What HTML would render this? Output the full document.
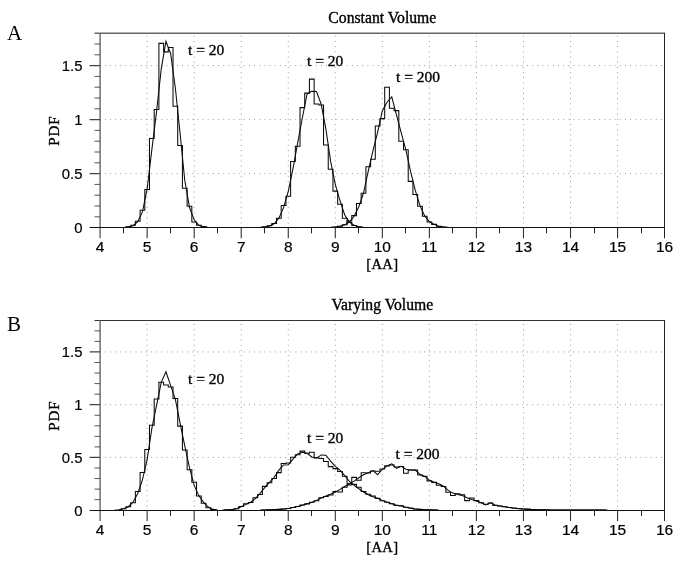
<!DOCTYPE html><html><head><meta charset="utf-8"><title>PDF</title><style>html,body{margin:0;padding:0;background:#fff}svg{display:block}text{fill:#000;stroke:#000;stroke-width:0.35px}.h{stroke-width:0.2px}.l{stroke:none}.s{font-family:"Liberation Serif",serif}.h{font-family:"Liberation Sans",sans-serif}</style></head><body>
<svg width="685" height="565" viewBox="0 0 685 565">
<rect width="685" height="565" fill="#fff"/>
<path d="M147.14 35.80V227.60M194.18 35.80V227.60M241.22 35.80V227.60M288.27 35.80V227.60M335.31 35.80V227.60M382.35 35.80V227.60M429.39 35.80V227.60M476.43 35.80V227.60M523.48 35.80V227.60M570.52 35.80V227.60M617.56 35.80V227.60" stroke="#9c9c9c" stroke-width="1" stroke-dasharray="1 4.19" fill="none"/>
<path d="M104.75 173.60H664.60M104.75 119.60H664.60M104.75 65.60H664.60" stroke="#9c9c9c" stroke-width="1" stroke-dasharray="1 4.15" fill="none"/>
<path d="M125.97 227.60V226.74H130.68V225.33H135.38V221.34H140.09V210.21H144.79V189.58H149.49V138.50H154.20V109.56H158.90V43.35H163.61V51.88H168.31V47.56H173.01V106.32H177.72V145.41H182.42V188.29H187.13V206.32H191.83V221.98H196.54V225.33H201.24V226.63H205.94V227.60" stroke="#0a0a0a" stroke-width="1.05" fill="none" stroke-linejoin="miter"/>
<path d="M123.62 227.49L128.32 227.06L133.03 225.76L137.73 221.77L142.44 211.94L147.14 188.94L151.85 149.62L156.55 111.50L161.25 68.84L165.96 41.30L170.66 53.72L175.37 88.28L180.07 133.21L184.77 180.40L189.48 207.30L194.18 219.82L198.89 225.33L203.59 226.95L208.30 227.38" stroke="#0a0a0a" stroke-width="1.05" fill="none" stroke-linejoin="miter" stroke-miterlimit="10"/>
<path d="M262.39 227.60V226.74H267.10V225.76H271.80V223.50H276.51V218.20H281.21V205.46H285.91V196.28H290.62V161.50H295.32V146.28H300.03V107.61H304.73V93.14H309.44V79.10H314.14V103.94H318.84V105.02H323.55V145.09H328.25V169.17H332.96V191.10H337.66V204.16H342.36V218.20H347.07V222.42H351.77V225.44H356.48V226.74H361.18V227.60" stroke="#0a0a0a" stroke-width="1.05" fill="none" stroke-linejoin="miter"/>
<path d="M260.04 227.38L264.75 227.06L269.45 225.98L274.15 223.82L278.86 218.20L283.56 207.62L288.27 191.31L292.97 168.74L297.68 142.82L302.38 117.76L307.08 94.00L311.79 91.30L316.49 91.52L321.20 104.26L325.90 129.10L330.60 161.18L335.31 184.62L340.01 200.60L344.72 214.96L349.42 222.09L354.12 225.22L358.83 226.74L363.53 227.28" stroke="#0a0a0a" stroke-width="1.05" fill="none" stroke-linejoin="miter" stroke-miterlimit="10"/>
<path d="M332.96 227.60V227.06H337.66V226.30H342.36V224.79H347.07V220.90H351.77V215.61H356.48V203.52H361.18V193.26H365.89V166.69H370.59V159.34H375.29V126.08H380.00V118.63H384.70V87.31H389.41V108.15H394.11V110.64H398.81V141.20H403.52V149.84H408.22V181.38H412.93V194.44H417.63V206.32H422.34V216.26H427.04V222.09H431.74V224.36H436.45V226.30H441.15V227.06H445.86V227.60" stroke="#0a0a0a" stroke-width="1.05" fill="none" stroke-linejoin="miter"/>
<path d="M330.60 227.38L335.31 227.06L340.01 226.30L344.72 224.79L349.42 222.20L354.12 216.26L358.83 206.76L363.53 193.04L368.24 171.22L372.94 150.92L377.65 132.02L382.35 110.64L387.05 102.21L391.76 96.92L396.46 114.96L401.17 132.67L405.87 149.84L410.58 171.44L415.28 190.45L419.98 205.68L424.69 215.94L429.39 221.55L434.10 224.36L438.80 226.20L443.50 227.06L448.21 227.38" stroke="#0a0a0a" stroke-width="1.05" fill="none" stroke-linejoin="miter" stroke-miterlimit="10"/>
<path d="M94.50 33.20H665.10" stroke="#666" stroke-width="1.5" fill="none"/>
<path d="M100.10 33.20V238.30" stroke="#666" stroke-width="1.4" fill="none"/>
<path d="M664.5 33.20V238.30" stroke="#222" stroke-width="1" fill="none"/>
<path d="M89.60 227.50H664.60" stroke="#111" stroke-width="1" fill="none"/>
<path d="M147.14 227.60v10.7M194.18 227.60v10.7M241.22 227.60v10.7M288.27 227.60v10.7M335.31 227.60v10.7M382.35 227.60v10.7M429.39 227.60v10.7M476.43 227.60v10.7M523.48 227.60v10.7M570.52 227.60v10.7M617.56 227.60v10.7" stroke="#333" stroke-width="1.1" fill="none"/>
<path d="M123.50 227.60v5.7M170.50 227.60v5.7M217.50 227.60v5.7M264.50 227.60v5.7M311.50 227.60v5.7M358.50 227.60v5.7M405.50 227.60v5.7M452.50 227.60v5.7M499.50 227.60v5.7M546.50 227.60v5.7M594.50 227.60v5.7M641.50 227.60v5.7" stroke="#222" stroke-width="1" fill="none"/>
<path d="M89.60 173.60H100.10M89.60 119.60H100.10M89.60 65.60H100.10" stroke="#444" stroke-width="1.2" fill="none"/>
<path d="M94.50 216.80H100.10M94.50 206.00H100.10M94.50 195.20H100.10M94.50 184.40H100.10M94.50 162.80H100.10M94.50 152.00H100.10M94.50 141.20H100.10M94.50 130.40H100.10M94.50 108.80H100.10M94.50 98.00H100.10M94.50 87.20H100.10M94.50 76.40H100.10M94.50 54.80H100.10M94.50 44.00H100.10" stroke="#555" stroke-width="1" fill="none"/>
<text class="h" transform="translate(100.10 252.20) scale(1 1)" font-size="15.5" text-anchor="middle">4</text>
<text class="h" transform="translate(147.14 252.20) scale(1 1)" font-size="15.5" text-anchor="middle">5</text>
<text class="h" transform="translate(194.18 252.20) scale(1 1)" font-size="15.5" text-anchor="middle">6</text>
<text class="h" transform="translate(241.22 252.20) scale(1 1)" font-size="15.5" text-anchor="middle">7</text>
<text class="h" transform="translate(288.27 252.20) scale(1 1)" font-size="15.5" text-anchor="middle">8</text>
<text class="h" transform="translate(335.31 252.20) scale(1 1)" font-size="15.5" text-anchor="middle">9</text>
<text class="h" transform="translate(382.35 252.20) scale(1 1)" font-size="15.5" text-anchor="middle">10</text>
<text class="h" transform="translate(429.39 252.20) scale(1 1)" font-size="15.5" text-anchor="middle">11</text>
<text class="h" transform="translate(476.43 252.20) scale(1 1)" font-size="15.5" text-anchor="middle">12</text>
<text class="h" transform="translate(523.48 252.20) scale(1 1)" font-size="15.5" text-anchor="middle">13</text>
<text class="h" transform="translate(570.52 252.20) scale(1 1)" font-size="15.5" text-anchor="middle">14</text>
<text class="h" transform="translate(617.56 252.20) scale(1 1)" font-size="15.5" text-anchor="middle">15</text>
<text class="h" transform="translate(664.60 252.20) scale(1 1)" font-size="15.5" text-anchor="middle">16</text>
<text class="h" transform="translate(82.50 232.90) scale(0.96 1)" font-size="15.5" text-anchor="end">0</text>
<text class="h" transform="translate(82.50 178.90) scale(0.96 1)" font-size="15.5" text-anchor="end">0.5</text>
<text class="h" transform="translate(82.50 124.90) scale(0.96 1)" font-size="15.5" text-anchor="end">1</text>
<text class="h" transform="translate(82.50 70.90) scale(0.96 1)" font-size="15.5" text-anchor="end">1.5</text>
<text class="s" x="382.3" y="269.20" font-size="14.6" text-anchor="middle" letter-spacing="0.35">[AA]</text>
<text class="s" transform="translate(59.4 130.70) rotate(-90)" font-size="15" letter-spacing="0.9" text-anchor="middle">PDF</text>
<text class="s" x="382.3" y="22.80" font-size="15.7" text-anchor="middle">Constant Volume</text>
<text class="s l" x="7" y="39.7" font-size="21">A</text>
<text class="s" x="188" y="54.5" font-size="15.5">t = 20</text>
<text class="s" x="307" y="65.7" font-size="15.5">t = 20</text>
<text class="s" x="396" y="82" font-size="15.5">t = 200</text>
<path d="M147.14 324.00V510.20M194.18 324.00V510.20M241.22 324.00V510.20M288.27 324.00V510.20M335.31 324.00V510.20M382.35 324.00V510.20M429.39 324.00V510.20M476.43 324.00V510.20M523.48 324.00V510.20M570.52 324.00V510.20M617.56 324.00V510.20" stroke="#9c9c9c" stroke-width="1" stroke-dasharray="1 4.19" fill="none"/>
<path d="M104.75 457.45H664.60M104.75 404.70H664.60M104.75 351.95H664.60" stroke="#9c9c9c" stroke-width="1" stroke-dasharray="1 4.15" fill="none"/>
<path d="M121.27 510.20V508.72H125.97V506.82H130.68V502.81H135.38V491.53H140.09V472.54H144.79V449.54H149.49V425.27H154.20V399.00H158.90V382.33H163.61V384.97H168.31V386.98H173.01V398.48H177.72V426.12H182.42V449.96H187.13V469.79H191.83V482.24H196.54V496.06H201.24V503.34H205.94V507.67H210.65V509.46H215.35V510.20" stroke="#0a0a0a" stroke-width="1.05" fill="none" stroke-linejoin="miter"/>
<path d="M114.21 510.15L118.92 509.78L123.62 508.72L128.32 506.72L133.03 502.29L137.73 493.43L142.44 479.82L147.14 459.56L151.85 428.33L156.55 405.33L161.25 382.33L165.96 371.78L170.66 385.60L175.37 399.43L180.07 423.06L184.77 445.95L189.48 467.68L194.18 485.41L198.89 495.85L203.59 502.29L208.30 507.03L213.00 509.36L217.70 509.99" stroke="#0a0a0a" stroke-width="1.05" fill="none" stroke-linejoin="miter" stroke-miterlimit="10"/>
<path d="M224.76 510.20V509.88H229.46V509.46H234.17V508.72H238.87V506.51H243.58V503.66H248.28V502.50H252.99V497.75H257.69V494.59H262.39V486.36H267.10V482.77H271.80V478.55H276.51V472.64H281.21V463.46H285.91V462.94H290.62V457.24H295.32V454.71H300.03V451.12H304.73V453.23H309.44V452.28H314.14V457.66H318.84V458.40H323.55V461.56H328.25V466.63H332.96V468.63H337.66V471.48H342.36V476.23H347.07V483.82H351.77V484.35H356.48V487.31H361.18V491.42H365.89V494.27H370.59V496.06H375.29V498.38H380.00V500.70H384.70V502.29H389.41V503.66H394.11V505.45H398.81V505.77H403.52V507.25H408.22V508.09H412.93V508.93H417.63V509.25H422.34V509.67H427.04V509.88H431.74V509.99H436.45V510.20" stroke="#0a0a0a" stroke-width="1.05" fill="none" stroke-linejoin="miter"/>
<path d="M222.41 510.09L227.11 509.99L231.82 509.57L236.52 508.72L241.22 506.82L245.93 504.40L250.63 502.18L255.34 498.59L260.04 493.43L264.75 487.62L269.45 482.45L274.15 477.39L278.86 470.11L283.56 464.94L288.27 464.83L292.97 459.14L297.67 453.97L302.38 452.28L307.08 453.23L311.79 456.92L316.49 458.08L321.20 454.92L325.90 455.23L330.60 461.04L335.31 466.31L340.01 470.11L344.72 475.60L349.42 481.50L354.12 485.30L358.83 488.78L363.53 491.95L368.24 494.69L372.94 496.70L377.65 498.38L382.35 500.39L387.05 502.29L391.76 503.87L396.46 505.14L401.17 505.98L405.87 507.35L410.57 508.30L415.28 508.93L419.98 509.36L424.69 509.67L429.39 509.88L434.10 509.99L438.80 510.09" stroke="#0a0a0a" stroke-width="1.05" fill="none" stroke-linejoin="miter" stroke-miterlimit="10"/>
<path d="M262.39 510.20V509.99H267.10V509.88H271.80V509.67H276.51V509.36H281.21V508.93H285.91V508.41H290.62V507.56H295.32V506.51H300.03V504.93H304.73V503.87H309.44V502.29H314.14V500.70H318.84V497.75H323.55V496.49H328.25V494.90H332.96V491.42H337.66V491.95H342.36V487.31H347.07V484.99H351.77V477.39H356.48V480.34H361.18V472.75H365.89V473.06H370.59V470.95H375.29V471.16H380.00V469.06H384.70V465.89H389.41V465.05H394.11V466.94H398.81V466.52H403.52V473.27H408.22V469.90H412.93V469.90H417.63V475.07H422.34V476.23H427.04V480.87H431.74V482.35H436.45V485.20H441.15V486.46H445.86V492.26H450.56V495.43H455.26V493.74H459.97V494.69H464.67V500.60H469.38V498.07H474.08V500.60H478.79V502.81H483.49V504.19H488.19V503.03H492.90V505.35H497.60V505.98H502.31V506.82H507.01V507.46H511.71V507.98H516.42V508.41H521.12V508.93H525.83V509.14H530.53V509.46H535.24V509.67H539.94V509.78H544.64V509.88H549.35V509.99H554.05V509.99H558.76V510.09H563.46V510.09H568.16V510.09H572.87V510.09H577.57V509.99H582.28V510.09H586.98V510.09H591.69V510.09H596.39V509.99H601.09V510.09H605.80V510.20" stroke="#0a0a0a" stroke-width="1.05" fill="none" stroke-linejoin="miter"/>
<path d="M260.04 510.09L264.75 509.99L269.45 509.88L274.15 509.67L278.86 509.36L283.56 508.93L288.27 508.41L292.97 507.56L297.68 506.51L302.38 505.14L307.08 503.66L311.79 502.50L316.49 500.39L321.20 498.07L325.90 496.06L330.60 494.16L335.31 492.26L340.01 489.42L344.72 486.57L349.42 483.82L354.12 481.08L358.83 477.71L363.53 474.75L368.24 472.75L372.94 470.64L377.65 474.75L382.35 469.27L387.05 465.89L391.76 463.78L396.46 468.42L401.17 466.31L405.87 469.16L410.58 469.90L415.28 470.11L419.98 474.33L424.69 476.44L429.39 480.13L434.10 482.35L438.80 483.82L443.50 486.15L448.21 490.37L452.91 493.11L457.62 494.59L462.32 495.43L467.02 497.65L471.73 499.54L476.43 501.02L481.14 502.81L485.84 504.93L490.55 502.81L495.25 505.24L499.95 505.98L504.66 506.82L509.36 507.56L514.07 508.20L518.77 508.62L523.48 509.04L528.18 509.36L532.88 509.57L537.59 509.78L542.29 509.88L547.00 509.99L551.70 509.99L556.40 510.09L561.11 510.09L565.81 510.09L570.52 510.09L575.22 510.09L579.93 510.09L584.63 509.99L589.33 510.09L594.04 510.09L598.74 510.09L603.45 510.09L608.15 510.20" stroke="#0a0a0a" stroke-width="1.05" fill="none" stroke-linejoin="miter" stroke-miterlimit="10"/>
<path d="M94.50 320.50H665.10" stroke="#333" stroke-width="1.1" fill="none"/>
<path d="M100.10 320.30V520.90" stroke="#666" stroke-width="1.4" fill="none"/>
<path d="M664.5 320.30V520.90" stroke="#222" stroke-width="1" fill="none"/>
<path d="M89.60 510.50H664.60" stroke="#111" stroke-width="1" fill="none"/>
<path d="M147.14 510.20v10.7M194.18 510.20v10.7M241.22 510.20v10.7M288.27 510.20v10.7M335.31 510.20v10.7M382.35 510.20v10.7M429.39 510.20v10.7M476.43 510.20v10.7M523.48 510.20v10.7M570.52 510.20v10.7M617.56 510.20v10.7" stroke="#333" stroke-width="1.1" fill="none"/>
<path d="M123.50 510.20v5.7M170.50 510.20v5.7M217.50 510.20v5.7M264.50 510.20v5.7M311.50 510.20v5.7M358.50 510.20v5.7M405.50 510.20v5.7M452.50 510.20v5.7M499.50 510.20v5.7M546.50 510.20v5.7M594.50 510.20v5.7M641.50 510.20v5.7" stroke="#222" stroke-width="1" fill="none"/>
<path d="M89.60 457.45H100.10M89.60 404.70H100.10M89.60 351.95H100.10" stroke="#444" stroke-width="1.2" fill="none"/>
<path d="M94.50 499.65H100.10M94.50 489.10H100.10M94.50 478.55H100.10M94.50 468.00H100.10M94.50 446.90H100.10M94.50 436.35H100.10M94.50 425.80H100.10M94.50 415.25H100.10M94.50 394.15H100.10M94.50 383.60H100.10M94.50 373.05H100.10M94.50 362.50H100.10M94.50 341.40H100.10M94.50 330.85H100.10" stroke="#555" stroke-width="1" fill="none"/>
<text class="h" transform="translate(100.10 534.80) scale(1 1)" font-size="15.5" text-anchor="middle">4</text>
<text class="h" transform="translate(147.14 534.80) scale(1 1)" font-size="15.5" text-anchor="middle">5</text>
<text class="h" transform="translate(194.18 534.80) scale(1 1)" font-size="15.5" text-anchor="middle">6</text>
<text class="h" transform="translate(241.22 534.80) scale(1 1)" font-size="15.5" text-anchor="middle">7</text>
<text class="h" transform="translate(288.27 534.80) scale(1 1)" font-size="15.5" text-anchor="middle">8</text>
<text class="h" transform="translate(335.31 534.80) scale(1 1)" font-size="15.5" text-anchor="middle">9</text>
<text class="h" transform="translate(382.35 534.80) scale(1 1)" font-size="15.5" text-anchor="middle">10</text>
<text class="h" transform="translate(429.39 534.80) scale(1 1)" font-size="15.5" text-anchor="middle">11</text>
<text class="h" transform="translate(476.43 534.80) scale(1 1)" font-size="15.5" text-anchor="middle">12</text>
<text class="h" transform="translate(523.48 534.80) scale(1 1)" font-size="15.5" text-anchor="middle">13</text>
<text class="h" transform="translate(570.52 534.80) scale(1 1)" font-size="15.5" text-anchor="middle">14</text>
<text class="h" transform="translate(617.56 534.80) scale(1 1)" font-size="15.5" text-anchor="middle">15</text>
<text class="h" transform="translate(664.60 534.80) scale(1 1)" font-size="15.5" text-anchor="middle">16</text>
<text class="h" transform="translate(82.50 515.50) scale(0.96 1)" font-size="15.5" text-anchor="end">0</text>
<text class="h" transform="translate(82.50 462.75) scale(0.96 1)" font-size="15.5" text-anchor="end">0.5</text>
<text class="h" transform="translate(82.50 410.00) scale(0.96 1)" font-size="15.5" text-anchor="end">1</text>
<text class="h" transform="translate(82.50 357.25) scale(0.96 1)" font-size="15.5" text-anchor="end">1.5</text>
<text class="s" x="382.3" y="551.80" font-size="14.6" text-anchor="middle" letter-spacing="0.35">[AA]</text>
<text class="s" transform="translate(59.4 415.55) rotate(-90)" font-size="15" letter-spacing="0.9" text-anchor="middle">PDF</text>
<text class="s" x="382.3" y="309.90" font-size="15.7" text-anchor="middle">Varying Volume</text>
<text class="s l" x="7" y="331.4" font-size="21">B</text>
<text class="s" x="188" y="383.8" font-size="15.5">t = 20</text>
<text class="s" x="307" y="443" font-size="15.5">t = 20</text>
<text class="s" x="395.5" y="459" font-size="15.5">t = 200</text>
</svg></body></html>
